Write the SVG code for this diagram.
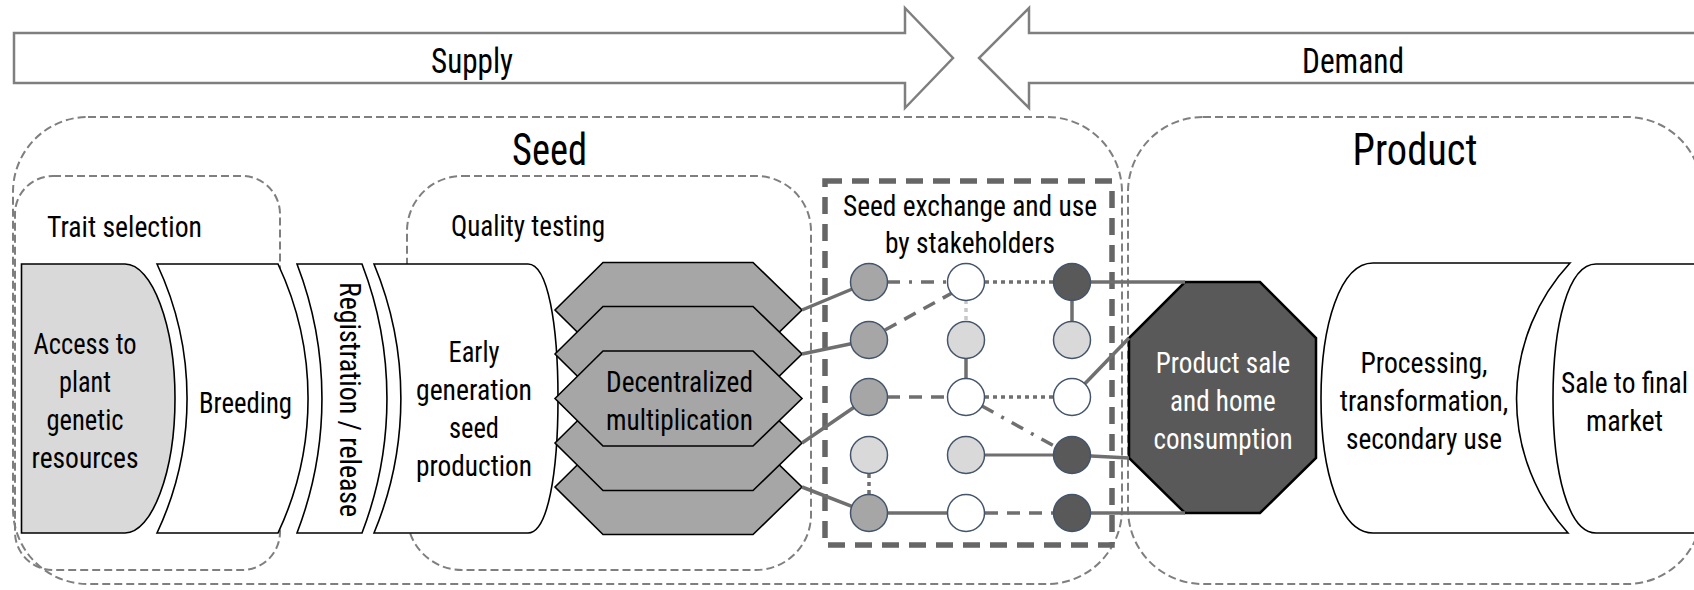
<svg xmlns="http://www.w3.org/2000/svg" width="1694" height="590" viewBox="0 0 1694 590">
<style>
.t{font-family:"Roboto Condensed","DejaVu Sans Condensed","Liberation Sans Narrow",Roboto,"Liberation Sans",sans-serif;font-size:30px;fill:#000}
.tt{font-size:44px}
.ta{font-size:35px}
.w{fill:#fff}
.arrow{fill:#fff;stroke:#7f7f7f;stroke-width:2.5}
.grp{fill:none;stroke:#7f7f7f;stroke-width:2;stroke-dasharray:8 4}
.xch{fill:none;stroke:#666;stroke-width:5.5;stroke-dasharray:17 10}
.sh{stroke:#000;stroke-width:1.6;fill:#fff}
.lt{fill:#d9d9d9}
.hx{fill:#a6a6a6;stroke:#000;stroke-width:1.6}
.oct{fill:#595959;stroke:#000;stroke-width:2.5}
.c{stroke:#44546a;stroke-width:1.5}
.cm{fill:#a6a6a6}.cl{fill:#d9d9d9}.cd{fill:#595959}.cw{fill:#fff}
.ln{stroke:#6f6f6f;stroke-width:3.5;fill:none}
.dash{stroke-dasharray:13 9}
.dd{stroke-dasharray:13 9 3 9}
.dot{stroke-dasharray:4 4}
.lg{stroke:#c8c8c8}
</style>

<g id="supply">
<polygon class="arrow" points="14,33 905,33 905,8 953,58 905,108 905,83 14,83"/>
<text class="t ta" x="431" y="73" textLength="82" lengthAdjust="spacingAndGlyphs">Supply</text>
</g>
<g id="demand">
<polygon class="arrow" points="1710,33 1029,33 1029,8 979,58 1029,108 1029,83 1710,83"/>
<text class="t ta" x="1302" y="73" textLength="102" lengthAdjust="spacingAndGlyphs">Demand</text>
</g>

<g id="seed-group">
<rect class="grp" x="13" y="117" width="1109" height="467" rx="75"/>
<text class="t tt" x="512" y="165" textLength="75" lengthAdjust="spacingAndGlyphs">Seed</text>
</g>
<g id="product-group">
<rect class="grp" x="1128" y="117" width="574" height="467" rx="75"/>
<text class="t tt" x="1352.5" y="165" textLength="125" lengthAdjust="spacingAndGlyphs">Product</text>
</g>
<g id="trait-selection">
<rect class="grp" x="15" y="176" width="265" height="394" rx="38"/>
<text class="t" x="47" y="237" textLength="155" lengthAdjust="spacingAndGlyphs">Trait selection</text>
</g>
<g id="quality-testing">
<rect class="grp" x="407" y="176" width="404" height="394" rx="55"/>
<text class="t" x="451" y="235.5" textLength="154" lengthAdjust="spacingAndGlyphs">Quality testing</text>
</g>

<g id="access">
<path class="sh lt" d="M21.5,264 H125 C152,264 175,325 175,398.5 C175,472 152,533 125,533 H21.5 Z"/>
<text class="t" x="33.5" y="353.5" textLength="103" lengthAdjust="spacingAndGlyphs">Access to</text>
<text class="t" x="59" y="391.5" textLength="52" lengthAdjust="spacingAndGlyphs">plant</text>
<text class="t" x="46.5" y="429.5" textLength="77" lengthAdjust="spacingAndGlyphs">genetic</text>
<text class="t" x="31.5" y="467.5" textLength="107" lengthAdjust="spacingAndGlyphs">resources</text>
</g>
<g id="breeding">
<path class="sh" d="M157,264 H278 A316 316 0 0 1 278,533 H157 A316 316 0 0 0 157,264 Z"/>
<text class="t" x="199" y="412.5" textLength="93" lengthAdjust="spacingAndGlyphs">Breeding</text>
</g>
<g id="registration">
<path class="sh" d="M297,264 H362 A375 375 0 0 1 362,533 H297 A375 375 0 0 0 297,264 Z"/>
<text class="t" x="223.5" y="398.5" transform="rotate(90 340 398.5)" textLength="235" lengthAdjust="spacingAndGlyphs">Registration / release</text>
</g>
<g id="early-generation">
<path class="sh" d="M374,264 H528 C548,264 558,325 558,398.5 C558,472 548,533 528,533 H374 A350 350 0 0 0 374,264 Z"/>
<text class="t" x="448.5" y="362" textLength="51" lengthAdjust="spacingAndGlyphs">Early</text>
<text class="t" x="416" y="400" textLength="116" lengthAdjust="spacingAndGlyphs">generation</text>
<text class="t" x="449" y="438.3" textLength="50" lengthAdjust="spacingAndGlyphs">seed</text>
<text class="t" x="416" y="475.5" textLength="116" lengthAdjust="spacingAndGlyphs">production</text>
</g>
<g id="decentralized-multiplication">
<polygon class="hx" points="555,310 603,262.5 753,262.5 802,310 753,357.5 603,357.5"/>
<polygon class="hx" points="555,354 603,306.5 753,306.5 802,354 753,401.5 603,401.5"/>
<polygon class="hx" points="555,487 603,439.5 753,439.5 802,487 753,534.5 603,534.5"/>
<polygon class="hx" points="555,443 603,395.5 753,395.5 802,443 753,490.5 603,490.5"/>
<polygon class="hx" points="555,398.5 603,351 753,351 802,398.5 753,446 603,446"/>
<text class="t" x="606" y="392" textLength="147" lengthAdjust="spacingAndGlyphs">Decentralized</text>
<text class="t" x="606" y="430" textLength="147" lengthAdjust="spacingAndGlyphs">multiplication</text>
</g>

<g id="seed-exchange">
<rect class="xch" x="825" y="181" width="287" height="364"/>
<text class="t" x="843" y="215.5" textLength="254" lengthAdjust="spacingAndGlyphs">Seed exchange and use</text>
<text class="t" x="885" y="253" textLength="170" lengthAdjust="spacingAndGlyphs">by stakeholders</text>
</g>

<g id="product-sale">
<polygon class="oct" points="1185,282 1260,282 1316,338 1316,458 1260,513 1185,513 1129,458 1129,338"/>
<text class="t w" x="1155.7" y="372.5" textLength="134.5" lengthAdjust="spacingAndGlyphs">Product sale</text>
<text class="t w" x="1170" y="410.5" textLength="105.7" lengthAdjust="spacingAndGlyphs">and home</text>
<text class="t w" x="1153.5" y="448.5" textLength="139" lengthAdjust="spacingAndGlyphs">consumption</text>
</g>
<g id="processing">
<path class="sh" d="M1373,263 H1570 A200 200 0 0 0 1568,533 H1373 C1340,533 1321,472 1321,398.5 C1321,325 1340,263 1373,263 Z"/>
<text class="t" x="1360.5" y="372.5" textLength="127" lengthAdjust="spacingAndGlyphs">Processing,</text>
<text class="t" x="1339.7" y="410.5" textLength="168.6" lengthAdjust="spacingAndGlyphs">transformation,</text>
<text class="t" x="1346" y="448.5" textLength="156" lengthAdjust="spacingAndGlyphs">secondary use</text>
</g>
<g id="sale-final-market">
<path class="sh" d="M1596,264 H1710 V533 H1596 C1568,533 1553,472 1553,398.5 C1553,325 1568,264 1596,264 Z"/>
<text class="t" x="1561" y="392.5" textLength="127" lengthAdjust="spacingAndGlyphs">Sale to final</text>
<text class="t" x="1586" y="430.5" textLength="77" lengthAdjust="spacingAndGlyphs">market</text>
</g>

<g id="connectors">
<line class="ln" x1="802" y1="310" x2="869" y2="282"/>
<line class="ln" x1="802" y1="354" x2="869" y2="340"/>
<line class="ln" x1="802" y1="443" x2="869" y2="397"/>
<line class="ln" x1="802" y1="487" x2="869" y2="513"/>
<line class="ln dd" x1="887" y1="282" x2="948" y2="282"/>
<line class="ln dot" x1="985" y1="282" x2="1054" y2="282"/>
<line class="ln" x1="1072" y1="282" x2="1185" y2="282"/>
<line class="ln dash" x1="885" y1="330" x2="952" y2="293"/>
<line class="ln dot lg" x1="966" y1="300" x2="966" y2="322"/>
<line class="ln" x1="1072" y1="282" x2="1072" y2="340"/>
<line class="ln" x1="966" y1="340" x2="966" y2="397"/>
<line class="ln dash" x1="887" y1="397" x2="948" y2="397"/>
<line class="ln dot" x1="985" y1="397" x2="1054" y2="397"/>
<line class="ln" x1="1072" y1="397" x2="1129" y2="338"/>
<line class="ln dd" x1="982" y1="406" x2="1054" y2="446"/>
<line class="ln" style="stroke-width:2.8" x1="966" y1="455" x2="1072" y2="455"/>
<line class="ln" x1="1072" y1="455" x2="1129" y2="458"/>
<line class="ln dot" x1="869" y1="474" x2="869" y2="495"/>
<line class="ln" x1="869" y1="513" x2="966" y2="513"/>
<line class="ln dash" x1="985" y1="513" x2="1054" y2="513"/>
<line class="ln" x1="1072" y1="513" x2="1185" y2="513"/>
</g>

<g id="stakeholders">
<circle id="n11" class="c cm" cx="869" cy="282" r="18.5"/>
<circle id="n12" class="c cm" cx="869" cy="340" r="18.5"/>
<circle id="n13" class="c cm" cx="869" cy="397" r="18.5"/>
<circle id="n14" class="c cl" cx="869" cy="455" r="18.5"/>
<circle id="n15" class="c cm" cx="869" cy="513" r="18.5"/>
<circle id="n21" class="c cw" cx="966" cy="282" r="18.5"/>
<circle id="n22" class="c cl" cx="966" cy="340" r="18.5"/>
<circle id="n23" class="c cw" cx="966" cy="397" r="18.5"/>
<circle id="n24" class="c cl" cx="966" cy="455" r="18.5"/>
<circle id="n25" class="c cw" cx="966" cy="513" r="18.5"/>
<circle id="n31" class="c cd" cx="1072" cy="282" r="18.5"/>
<circle id="n32" class="c cl" cx="1072" cy="340" r="18.5"/>
<circle id="n33" class="c cw" cx="1072" cy="397" r="18.5"/>
<circle id="n34" class="c cd" cx="1072" cy="455" r="18.5"/>
<circle id="n35" class="c cd" cx="1072" cy="513" r="18.5"/>
</g>
</svg>
